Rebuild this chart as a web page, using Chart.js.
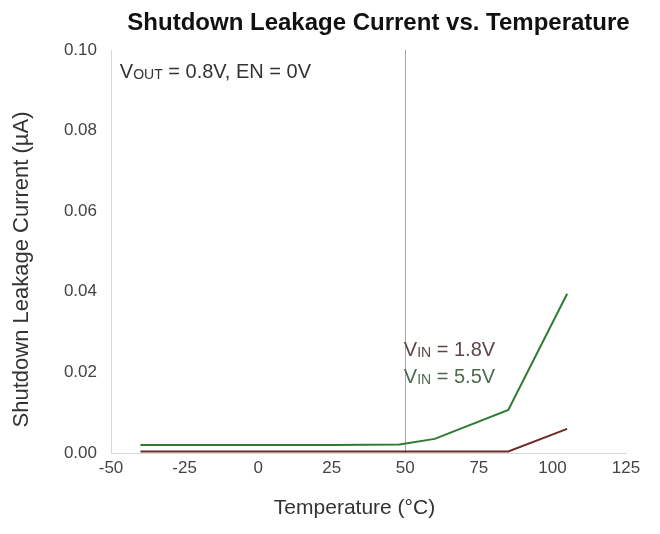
<!DOCTYPE HTML>
<html>
  <head>
    <script src="https://cdn.jsdelivr.net/npm/chart.js"></script>
  </head>
  <body style="margin: 0; background: #fff;">
    <div style="position: relative; width: 660px; height: 534px;">
      <canvas id="leak-chart"></canvas>
    </div>

    <script>
      // temperatures (°C) and leakage current (uA)
      const temps = [-40, -20, 0, 25, 48, 60, 85, 105];
      const vin18 = [0.0004, 0.0004, 0.0004, 0.0004, 0.0004, 0.0004, 0.0004, 0.006];
      const vin55 = [0.002, 0.002, 0.002, 0.002, 0.0021, 0.0035, 0.0107, 0.0395];
      const xTicks = [-50, -25, 0, 25, 50, 75, 100, 125];
      const yTicks = [0, 0.02, 0.04, 0.06, 0.08, 0.10];

      const font = "'Liberation Sans', Arial, sans-serif";

      function pts(ys) {
        return temps.map(function(t, i) { return {x: t, y: ys[i]}; });
      }

      // draw a "V" with a subscript, then the rest of the text
      function subText(ctx, x, y, sub, rest, color) {
        ctx.fillStyle = color;
        ctx.textBaseline = 'middle';
        ctx.textAlign = 'left';
        ctx.font = '20px ' + font;
        ctx.fillText('V', x, y);
        let w = ctx.measureText('V').width;
        ctx.font = '14px ' + font;
        ctx.fillText(sub, x + w, y + 3);
        w += ctx.measureText(sub).width;
        ctx.font = '20px ' + font;
        ctx.fillText(rest, x + w, y);
      }

      const notes = {
        id: 'notes',
        afterDraw: function(chart) {
          const ctx = chart.ctx;
          const xs = chart.scales.x, ys = chart.scales.y;
          const area = chart.chartArea;
          ctx.save();
          ctx.textAlign = 'center';
          ctx.textBaseline = 'middle';
          // chart title
          ctx.fillStyle = '#111';
          ctx.font = 'bold 24px ' + font;
          ctx.fillText('Shutdown Leakage Current vs. Temperature', (area.left + area.right) / 2 + 10, 23);
          // axis titles
          ctx.fillStyle = '#333';
          ctx.font = '21px ' + font;
          ctx.fillText('Temperature (°C)', (area.left + area.right) / 2 - 14, 508);
          ctx.save();
          ctx.translate(22, (area.top + area.bottom) / 2 + 18);
          ctx.rotate(-Math.PI / 2);
          ctx.font = '22px ' + font;
          ctx.fillText('Shutdown Leakage Current (µA)', 0, 0);
          ctx.restore();
          subText(ctx, xs.getPixelForValue(-47), ys.getPixelForValue(0.0945), 'OUT', ' = 0.8V, EN = 0V', '#333');
          subText(ctx, xs.getPixelForValue(49.5), ys.getPixelForValue(0.0255), 'IN', ' = 1.8V', '#5e4646');
          subText(ctx, xs.getPixelForValue(49.5), ys.getPixelForValue(0.0188), 'IN', ' = 5.5V', '#4e6a4e');
          ctx.restore();
        }
      };

      const ctxEl = document.getElementById("leak-chart");
      leak_chart = new Chart(ctxEl, {
        type: 'line',
        data: {
          datasets: [{
            label: 'VIN = 1.8V',
            data: pts(vin18),
            borderColor: '#6e2a2a',
            borderWidth: 2,
            pointRadius: 0,
            tension: 0
          }, {
            label: 'VIN = 5.5V',
            data: pts(vin55),
            borderColor: '#2f7a33',
            borderWidth: 2,
            pointRadius: 0,
            tension: 0
          }]
        },
        options: {
          responsive: true,
          maintainAspectRatio: false,
          animation: false,
          layout: {padding: {left: 0, right: 34, top: 50, bottom: 6}},
          plugins: {
            legend: {display: false},
            tooltip: {enabled: false},
            title: {display: false}
          },
          scales: {
            x: {
              type: 'linear',
              min: -50,
              max: 125,
              afterBuildTicks: function(s) { s.ticks = xTicks.map(function(v) { return {value: v}; }); },
              afterFit: function(s) { s.height = 75; },
              ticks: {color: '#444', font: {family: font, size: 17}, padding: 5},
              grid: {
                drawTicks: false,
                color: function(c) { return c.tick && c.tick.value === 50 ? '#a8a8a8' : 'rgba(0,0,0,0)'; },
                lineWidth: 1
              },
              border: {display: true, color: '#d8d8d8'},
              title: {display: false}
            },
            y: {
              min: 0,
              max: 0.1,
              afterBuildTicks: function(s) { s.ticks = yTicks.map(function(v) { return {value: v}; }); },
              afterFit: function(s) { s.width = 111; },
              ticks: {
                color: '#444',
                font: {family: font, size: 17},
                padding: 14,
                callback: function(v) { return v.toFixed(2); }
              },
              grid: {display: false, drawTicks: false},
              border: {display: true, color: '#d8d8d8'},
              title: {display: false}
            }
          }
        },
        plugins: [notes]
      });
    </script>
  </body>
</html>
